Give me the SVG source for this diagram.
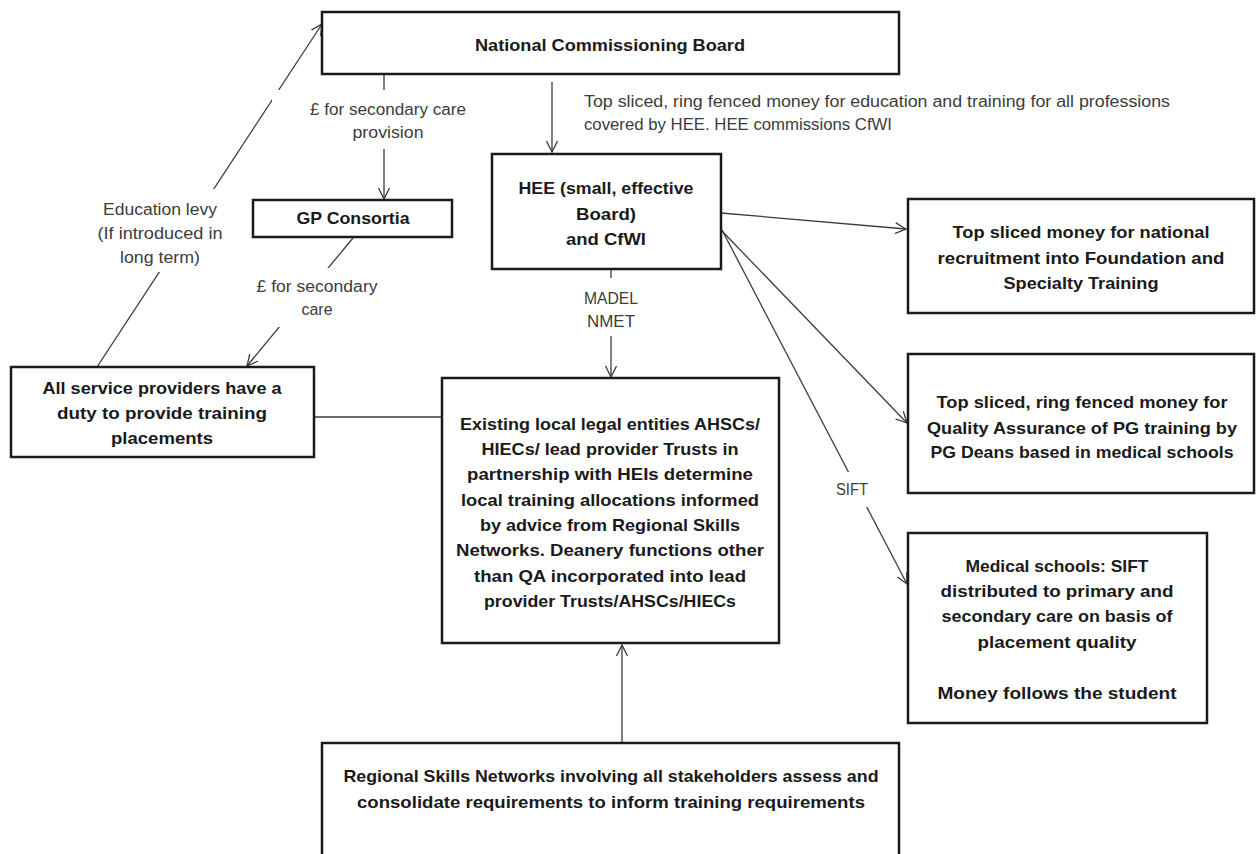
<svg xmlns="http://www.w3.org/2000/svg" width="1257" height="854" viewBox="0 0 1257 854">
<defs>
<style>
.box{fill:#fff;stroke:#1a1a1a;stroke-width:2.5}
.b{font-family:"Liberation Sans",Arial,sans-serif;font-weight:bold;font-size:17px;fill:#1a1a1a;text-anchor:middle}
.r{font-family:"Liberation Sans",Arial,sans-serif;font-size:16px;fill:#3c3c3c;text-anchor:middle}
.l{text-anchor:start}
.c{stroke:#3c3c3c;stroke-width:1.3;fill:none}
.a{marker-end:url(#ah)}
.lb{fill:#fff;stroke:none}
</style>
<marker id="ah" markerUnits="userSpaceOnUse" markerWidth="14" markerHeight="14" refX="11" refY="6" orient="auto">
<path d="M0,0.5 L11,6 L0,11.5" fill="none" stroke="#3c3c3c" stroke-width="1.3"/>
</marker>
</defs>
<rect width="1257" height="854" fill="#fff"/>

<g id="connectors">
<line class="c a" x1="384" y1="74" x2="384" y2="199"/>
<line class="c a" x1="552" y1="82" x2="552" y2="152"/>
<line class="c a" x1="721" y1="213" x2="906" y2="229"/>
<line class="c a" x1="722" y1="231" x2="907" y2="423"/>
<line class="c a" x1="722" y1="230" x2="907" y2="584"/>
<line class="c a" x1="611" y1="269" x2="611" y2="377"/>
<line class="c a" x1="622" y1="743" x2="622" y2="645"/>
<line class="c" x1="314" y1="417" x2="442" y2="417"/>
<line class="c a" x1="353" y1="238" x2="247" y2="366"/>
<line class="c a" x1="97" y1="367" x2="322" y2="24"/>

<rect class="lb" x="272" y="90" width="230" height="59"/>
<text class="r" x="388" y="115" textLength="156" lengthAdjust="spacingAndGlyphs">£ for secondary care</text>
<text class="r" x="388" y="138" textLength="71" lengthAdjust="spacingAndGlyphs">provision</text>

<text class="r l" x="584" y="107" textLength="586" lengthAdjust="spacingAndGlyphs">Top sliced, ring fenced money for education and training for all professions</text>
<text class="r l" x="584" y="130" textLength="308" lengthAdjust="spacingAndGlyphs">covered by HEE. HEE commissions CfWI</text>

<rect class="lb" x="75" y="189" width="170" height="83"/>
<text class="r" x="160" y="215" textLength="114" lengthAdjust="spacingAndGlyphs">Education levy</text>
<text class="r" x="160" y="239" textLength="125" lengthAdjust="spacingAndGlyphs">(If introduced in</text>
<text class="r" x="160" y="263" textLength="80" lengthAdjust="spacingAndGlyphs">long term)</text>

<rect class="lb" x="235" y="268" width="167" height="59"/>
<text class="r" x="317" y="292" textLength="121" lengthAdjust="spacingAndGlyphs">£ for secondary</text>
<text class="r" x="317" y="315" textLength="31" lengthAdjust="spacingAndGlyphs">care</text>

<rect class="lb" x="521" y="278" width="176" height="58"/>
<text class="r" x="611" y="304" textLength="54" lengthAdjust="spacingAndGlyphs">MADEL</text>
<text class="r" x="611" y="327" textLength="48" lengthAdjust="spacingAndGlyphs">NMET</text>

<rect class="lb" x="810" y="472" width="88" height="35"/>
<text class="r" x="852" y="495" textLength="32" lengthAdjust="spacingAndGlyphs">SIFT</text>
</g>

<g id="ncb">
<rect class="box" x="322" y="12" width="577" height="62"/>
<text class="b" x="610" y="51" textLength="270" lengthAdjust="spacingAndGlyphs">National Commissioning Board</text>
</g>

<g id="hee">
<rect class="box" x="492" y="154" width="229" height="115"/>
<text class="b" x="606" y="194" textLength="175" lengthAdjust="spacingAndGlyphs">HEE (small, effective</text>
<text class="b" x="606" y="220" textLength="60" lengthAdjust="spacingAndGlyphs">Board)</text>
<text class="b" x="606" y="245" textLength="80" lengthAdjust="spacingAndGlyphs">and CfWI</text>
</g>

<g id="gp">
<rect class="box" x="253" y="200" width="199" height="37"/>
<text class="b" x="353" y="224" textLength="113" lengthAdjust="spacingAndGlyphs">GP Consortia</text>
</g>

<g id="providers">
<rect class="box" x="11" y="367" width="303" height="90"/>
<text class="b" x="162" y="394" textLength="239" lengthAdjust="spacingAndGlyphs">All service providers have a</text>
<text class="b" x="162" y="419" textLength="210" lengthAdjust="spacingAndGlyphs">duty to provide training</text>
<text class="b" x="162" y="444" textLength="102" lengthAdjust="spacingAndGlyphs">placements</text>
</g>

<g id="local">
<rect class="box" x="442" y="378" width="337" height="265"/>
<text class="b" x="610" y="430" textLength="300" lengthAdjust="spacingAndGlyphs">Existing local legal entities AHSCs/</text>
<text class="b" x="610" y="455" textLength="257" lengthAdjust="spacingAndGlyphs">HIECs/ lead provider Trusts in</text>
<text class="b" x="610" y="480" textLength="286" lengthAdjust="spacingAndGlyphs">partnership with HEIs determine</text>
<text class="b" x="610" y="506" textLength="298" lengthAdjust="spacingAndGlyphs">local training allocations informed</text>
<text class="b" x="610" y="531" textLength="260" lengthAdjust="spacingAndGlyphs">by advice from Regional Skills</text>
<text class="b" x="610" y="556" textLength="308" lengthAdjust="spacingAndGlyphs">Networks. Deanery functions other</text>
<text class="b" x="610" y="582" textLength="272" lengthAdjust="spacingAndGlyphs">than QA incorporated into lead</text>
<text class="b" x="610" y="607" textLength="252" lengthAdjust="spacingAndGlyphs">provider Trusts/AHSCs/HIECs</text>
</g>

<g id="recruitment">
<rect class="box" x="908" y="199" width="346" height="114"/>
<text class="b" x="1081" y="238" textLength="257" lengthAdjust="spacingAndGlyphs">Top sliced money for national</text>
<text class="b" x="1081" y="264" textLength="287" lengthAdjust="spacingAndGlyphs">recruitment into Foundation and</text>
<text class="b" x="1081" y="289" textLength="155" lengthAdjust="spacingAndGlyphs">Specialty Training</text>
</g>

<g id="qa">
<rect class="box" x="908" y="354" width="346" height="139"/>
<text class="b" x="1082" y="408" textLength="291" lengthAdjust="spacingAndGlyphs">Top sliced, ring fenced money for</text>
<text class="b" x="1082" y="434" textLength="310" lengthAdjust="spacingAndGlyphs">Quality Assurance of PG training by</text>
<text class="b" x="1082" y="458" textLength="303" lengthAdjust="spacingAndGlyphs">PG Deans based in medical schools</text>
</g>

<g id="medical">
<rect class="box" x="908" y="533" width="299" height="190"/>
<text class="b" x="1057" y="572" textLength="183" lengthAdjust="spacingAndGlyphs">Medical schools: SIFT</text>
<text class="b" x="1057" y="597" textLength="233" lengthAdjust="spacingAndGlyphs">distributed to primary and</text>
<text class="b" x="1057" y="622" textLength="231" lengthAdjust="spacingAndGlyphs">secondary care on basis of</text>
<text class="b" x="1057" y="648" textLength="159" lengthAdjust="spacingAndGlyphs">placement quality</text>
<text class="b" x="1057" y="699" textLength="239" lengthAdjust="spacingAndGlyphs">Money follows the student</text>
</g>

<g id="regional">
<rect class="box" x="322" y="743" width="577" height="130"/>
<text class="b" x="611" y="782" textLength="535" lengthAdjust="spacingAndGlyphs">Regional Skills Networks involving all stakeholders assess and</text>
<text class="b" x="611" y="808" textLength="508" lengthAdjust="spacingAndGlyphs">consolidate requirements to inform training requirements</text>
</g>
</svg>
